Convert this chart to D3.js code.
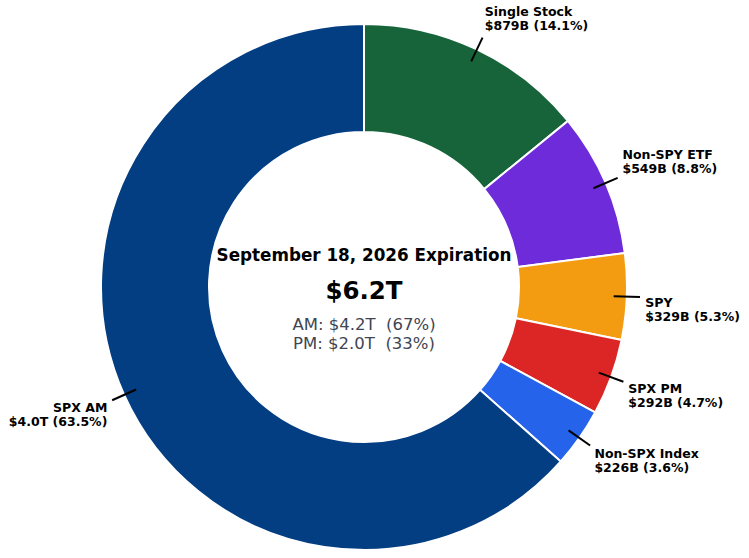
<!DOCTYPE html>
<html>
<head>
<meta charset="utf-8">
<script src="https://cdn.jsdelivr.net/npm/d3@7"></script>
<style>
  body { margin: 0; background: #fff; }
  svg { display: block; font-family: "DejaVu Sans", sans-serif; }
  text { white-space: pre; }
</style>
</head>
<body>
<div id="chart"></div>
<script>
var svgWidth = 749;
var svgHeight = 558;

// slices, clockwise from 12 o'clock
var names = ["Single Stock", "Non-SPY ETF", "SPY", "SPX PM", "Non-SPX Index", "SPX AM"];
var values = [879, 549, 329, 292, 226, 3950];
var valueLabels = ["$879B", "$549B", "$329B", "$292B", "$226B", "$4.0T"];
var pctLabels = ["14.1%", "8.8%", "5.3%", "4.7%", "3.6%", "63.5%"];
var colors = ["#18643a", "#6d2bd9", "#f39c12", "#dc2626", "#2563eb", "#033d82"];

var centerTitle = "September 18, 2026 Expiration";
var centerTotal = "$6.2T";
var centerLines = ["AM: $4.2T  (67%)", "PM: $2.0T  (33%)"];

var cx = 364, cy = 287;
var outerR = 263, innerR = 155;

var svg = d3.select("#chart")
    .append("svg")
    .attr("width", svgWidth)
    .attr("height", svgHeight);

var g = svg.append("g")
    .attr("transform", `translate(${cx}, ${cy})`);

var data = names.map(function(n, i) {
    return { name: n, value: values[i], vlab: valueLabels[i], plab: pctLabels[i], color: colors[i] };
});

var pie = d3.pie()
    .sort(null)
    .value(d => d.value);

var arc = d3.arc()
    .innerRadius(innerR)
    .outerRadius(outerR);

var arcs = pie(data);

g.selectAll("path.slice")
    .data(arcs)
    .enter()
    .append("path")
    .attr("class", "slice")
    .attr("d", arc)
    .attr("fill", d => d.data.color)
    .attr("stroke", "#fff")
    .attr("stroke-width", 2);

function polar(a, r) {
    return [r * Math.sin(a), -r * Math.cos(a)];
}

var fs = 12.5;
var lineGap = 14;

arcs.forEach(function(d) {
    var mid = (d.startAngle + d.endAngle) / 2;
    var p0 = polar(mid, outerR * 0.95);
    var p1 = polar(mid, outerR * 1.05);
    var pt = polar(mid, outerR * 1.07);

    g.append("line")
        .attr("x1", p0[0]).attr("y1", p0[1])
        .attr("x2", p1[0]).attr("y2", p1[1])
        .attr("stroke", "#000")
        .attr("stroke-width", 2);

    var anchor = pt[0] >= 0 ? "start" : "end";
    var firstBase;
    if (pt[1] < 0) {
        // text sits above the point
        firstBase = pt[1] - 0.21 * fs - lineGap;
    } else {
        firstBase = pt[1] + 0.76 * fs;
    }

    var t = g.append("text")
        .attr("text-anchor", anchor)
        .attr("font-size", fs)
        .attr("font-weight", "bold")
        .attr("fill", "#000");
    t.append("tspan")
        .attr("x", pt[0])
        .attr("y", firstBase)
        .text(d.data.name);
    t.append("tspan")
        .attr("x", pt[0])
        .attr("y", firstBase + lineGap)
        .text(`${d.data.vlab} (${d.data.plab})`);
});

g.append("text")
    .attr("x", 0)
    .attr("y", 261 - cy)
    .attr("text-anchor", "middle")
    .attr("font-size", 16.8)
    .attr("font-weight", "bold")
    .attr("fill", "#000")
    .text(centerTitle);

g.append("text")
    .attr("x", 0)
    .attr("y", 299 - cy)
    .attr("text-anchor", "middle")
    .attr("font-size", 24.5)
    .attr("font-weight", "bold")
    .attr("fill", "#000")
    .text(centerTotal);

centerLines.forEach(function(s, i) {
    g.append("text")
        .attr("x", 0)
        .attr("y", 330 - cy + i * 19)
        .attr("text-anchor", "middle")
        .attr("font-size", 16.5)
        .attr("fill", "#3f4553")
        .text(s);
});
</script>
</body>
</html>
